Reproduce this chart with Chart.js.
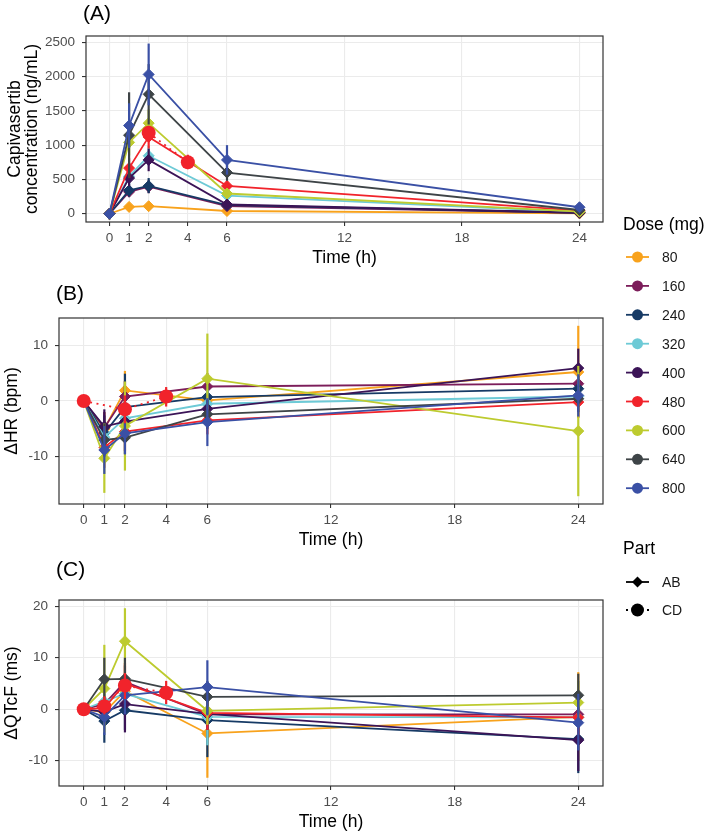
<!DOCTYPE html>
<html>
<head>
<meta charset="utf-8">
<title>Capivasertib concentration, ΔHR and ΔQTcF by dose</title>
<script src="https://cdn.jsdelivr.net/npm/chart.js@4.4.1/dist/chart.umd.min.js"></script>
<style>
    html, body { margin: 0; padding: 0; background: #fff; }
    body { width: 709px; height: 834px; position: relative; overflow: hidden; }
    canvas { position: absolute; left: 0; }
    #panelA { top: 0; }
    #panelB { top: 270px; }
    #panelC { top: 552px; }
    #legend { position: absolute; left: 0; top: 0; }
    #legend text { font-family: "Liberation Sans", Arial, sans-serif; }
</style>
</head>
<body>
<canvas id="panelA" width="610" height="270"></canvas>
<canvas id="panelB" width="610" height="282"></canvas>
<canvas id="panelC" width="610" height="282"></canvas>
<svg id="legend" width="709" height="834" xmlns="http://www.w3.org/2000/svg"></svg>
<script>
// ---- data ----
const doses = ['80', '160', '240', '320', '400', '480', '600', '640', '800'];
const doseColors = ['#F8A21C', '#7C1D5A', '#163A65', '#6DCAD6', '#3B1457', '#F1232B', '#BDCB2F', '#3E4447', '#3A50A5'];
const abTimes = [0, 1, 2, 6, 24];
const xTicks = [0, 1, 2, 4, 6, 12, 18, 24];

// (A) capivasertib concentration, ng/mL — one row per dose, columns = abTimes
const pkMean = [
    [0, 100, 110, 40, 5],
    [0, 320, 395, 110, 15],
    [0, 340, 405, 125, 15],
    [0, 545, 845, 265, 25],
    [0, 520, 785, 135, 15],
    [0, 665, 1120, 405, 45],
    [0, 1040, 1320, 295, 30],
    [0, 1145, 1740, 600, 55],
    [0, 1285, 2030, 785, 95]
];
const pkLow = [
    [0, 70, 70, 20, 0],
    [0, 250, 300, 80, 5],
    [0, 250, 300, 90, 5],
    [0, 420, 700, 200, 10],
    [0, 400, 620, 100, 5],
    [0, 520, 950, 330, 25],
    [0, 850, 1120, 230, 15],
    [0, 520, 1300, 480, 30],
    [0, 960, 1580, 570, 60]
];
const pkHigh = [
    [0, 130, 150, 60, 10],
    [0, 390, 490, 140, 25],
    [0, 430, 520, 160, 25],
    [0, 670, 990, 330, 40],
    [0, 640, 950, 170, 25],
    [0, 810, 1290, 480, 65],
    [0, 1230, 1520, 360, 45],
    [0, 1770, 2180, 720, 80],
    [0, 1610, 2480, 1000, 130]
];
const pkCdTimes = [2, 4];
const pkCdMean = [1180, 750];
const pkCdLow = [1080, 650];
const pkCdHigh = [1280, 860];
const pkTicks = [0, 500, 1000, 1500, 2000, 2500];

// (B) ΔHR, bpm
const hrMean = [
    [0, -5.0, 1.9, 0.1, 5.2],
    [0, -4.8, 0.8, 2.6, 3.1],
    [0, -5.8, -1.1, 0.7, 2.2],
    [0, -6.5, -3.1, -0.5, 0.8],
    [0, -4.6, -3.7, -1.4, 5.9],
    [0, -8.3, -5.5, -3.5, -0.2],
    [0, -10.3, -4.5, 4.0, -5.4],
    [0, -7.0, -6.6, -2.4, 0.4],
    [0, -8.8, -5.8, -3.8, 1.0]
];
const hrLow = [
    [0, -8, -1.5, -2, -3],
    [0, -8, -2, 0, 0],
    [0, -9, -6, -1.5, 0],
    [0, -9, -6, -3, -1],
    [0, -8, -7, -4, 2.5],
    [0, -12, -9, -6, -3],
    [0, -16.5, -12.5, -4, -17.1],
    [0, -10, -9.5, -5, -2],
    [0, -13.1, -9.6, -8.1, -2.8]
];
const hrHigh = [
    [0, -2, 5.4, 2.2, 13.5],
    [0, -2, 3.6, 5, 6],
    [0, -2.6, 4.9, 3, 4.5],
    [0, -4, 0, 2, 2.5],
    [0, -1.5, -0.5, 1.2, 9.4],
    [0, -5, -2, -1, 2],
    [0, -4, 3.5, 12.1, 6.3],
    [0, -4, -3.7, 0.2, 2.8],
    [0, -4.5, -2, 0.5, 4.8]
];
const hrCdTimes = [0, 2, 4];
const hrCdMean = [0, -1.5, 0.8];
const hrCdLow = [0, -4, -1];
const hrCdHigh = [0, 1, 2.5];
const hrTicks = [-10, 0, 10];

// (C) ΔQTcF, ms
const qtcMean = [
    [0, -0.6, 3.5, -4.7, -1.5],
    [0, 1.0, 5.3, -1.0, -1.0],
    [0, -2.3, -0.2, -2.1, -5.8],
    [0, 1.5, 3.0, -1.5, -1.6],
    [0, -0.5, 1.0, -0.9, -6.0],
    [0, 0.2, 5.0, -0.7, -1.6],
    [0, 4.0, 13.2, -0.3, 1.3],
    [0, 5.8, 5.9, 2.4, 2.7],
    [0, -1.5, 2.7, 4.3, -2.6]
];
const qtcLow = [
    [0, -2, 1, -13.3, -10],
    [0, -1, 2, -4, -5],
    [0, -6.5, -4, -9.3, -12.4],
    [0, -0.5, 0, -7, -5],
    [0, -3, -4.5, -4, -12],
    [0, -2, 1, -4, -5],
    [0, -4.5, 6.8, -3, -3],
    [0, 1.5, 1.5, -1, -1],
    [0, -5, -1, -1.2, -8]
];
const qtcHigh = [
    [0, 1, 6, 3.9, 7.2],
    [0, 3, 8.5, 2, 3],
    [0, 2, 3.5, 5, 0.8],
    [0, 3, 6, 4, 2],
    [0, 2, 6.5, 2, 0],
    [0, 2.5, 9, 2.5, 2],
    [0, 12.5, 19.6, 2.5, 5.5],
    [0, 10, 10, 5.5, 6.9],
    [0, 2, 6.5, 9.5, 3]
];
const qtcCdTimes = [0, 1, 2, 4];
const qtcCdMean = [0, 0.6, 4.6, 3.2];
const qtcCdLow = [0, -1, 2, 1];
const qtcCdHigh = [0, 2.5, 7, 5.5];
const qtcTicks = [-10, 0, 10, 20];

const cdColor = '#F1232B';
const FONT = '"Liberation Sans", Arial, sans-serif';
Chart.defaults.font.family = FONT;

// Vertical range bars, drawn just before each dataset so layering follows the series
const errorBars = {
    id: 'errorBars',
    beforeDatasetDraw(chart, args) {
        const ds = chart.data.datasets[args.index];
        if (!ds.errLo) return;
        const { ctx, scales: { x, y } } = chart;
        ctx.save();
        ctx.strokeStyle = ds.borderColor;
        ctx.lineWidth = 2.2;
        ds.data.forEach((p, i) => {
            const px = x.getPixelForValue(p.x);
            ctx.beginPath();
            ctx.moveTo(px, y.getPixelForValue(ds.errLo[i]));
            ctx.lineTo(px, y.getPixelForValue(ds.errHi[i]));
            ctx.stroke();
        });
        ctx.restore();
    }
};

// Panel border (theme_bw style) and the (A)/(B)/(C) tag
const panelFrame = {
    id: 'panelFrame',
    afterDraw(chart, args, opts) {
        const { ctx, chartArea: a } = chart;
        ctx.save();
        ctx.strokeStyle = '#333333';
        ctx.lineWidth = 1.2;
        ctx.strokeRect(a.left, a.top, a.right - a.left, a.bottom - a.top);
        ctx.fillStyle = '#000';
        ctx.font = '21px ' + FONT;
        ctx.textBaseline = 'middle';
        ctx.fillText(opts.label, a.left - 3, opts.labelY);
        ctx.restore();
    }
};

function buildDatasets(mean, low, high, cdTimes, cdMean, cdLow, cdHigh) {
    const sets = doses.map((d, i) => ({
        label: d + ' mg (AB)',
        data: abTimes.map((t, j) => ({ x: t, y: mean[i][j] })),
        errLo: low[i],
        errHi: high[i],
        showLine: true,
        borderColor: doseColors[i],
        backgroundColor: doseColors[i],
        borderWidth: 1.8,
        pointStyle: 'rectRot',
        pointRadius: 5.5,
        pointBorderWidth: 1,
        order: 100 - i
    }));
    sets.push({
        label: '480 mg (CD)',
        data: cdTimes.map((t, j) => ({ x: t, y: cdMean[j] })),
        errLo: cdLow,
        errHi: cdHigh,
        showLine: true,
        borderColor: cdColor,
        backgroundColor: cdColor,
        borderWidth: 1.8,
        borderDash: [2, 4.5],
        pointStyle: 'circle',
        pointRadius: 7,
        pointBorderWidth: 0,
        order: 0
    });
    return sets;
}

function buildScales(yMin, yMax, yTicks, yTitle, yWidth, titlePad, titleLH) {
    return {
        x: {
            type: 'linear',
            min: -1.2,
            max: 25.2,
            afterBuildTicks: (axis) => { axis.ticks = xTicks.map(v => ({ value: v })); },
            afterFit: (axis) => { axis.height = 48; },
            grid: { color: '#EBEBEB', lineWidth: 1.1, tickLength: 4, tickColor: '#333333', tickWidth: 1.1 },
            border: { display: false },
            ticks: { color: '#4D4D4D', font: { size: 13.5 }, padding: 4, maxRotation: 0, autoSkip: false, callback: (v) => String(v) },
            title: { display: true, text: 'Time (h)', color: '#000', font: { size: 17.5 }, padding: { top: 0, bottom: 1.5 } }
        },
        y: {
            type: 'linear',
            min: yMin,
            max: yMax,
            afterBuildTicks: (axis) => { axis.ticks = yTicks.map(v => ({ value: v })); },
            afterFit: (axis) => { axis.width = yWidth; },
            grid: { color: '#EBEBEB', lineWidth: 1.1, tickLength: 4, tickColor: '#333333', tickWidth: 1.1 },
            border: { display: false },
            ticks: { color: '#4D4D4D', font: { size: 13.5 }, padding: 7, callback: (v) => String(v) },
            title: { display: true, text: yTitle, color: '#000', font: { size: 17.5, lineHeight: titleLH }, padding: { top: titlePad, bottom: 0 } }
        }
    };
}

function makePanel(id, datasets, scales, label, labelY, padTop) {
    new Chart(document.getElementById(id).getContext('2d'), {
        type: 'scatter',
        data: { datasets },
        options: {
            responsive: false,
            animation: false,
            events: [],
            layout: { padding: { left: 0, right: 5, top: padTop, bottom: 0 } },
            plugins: {
                legend: { display: false },
                tooltip: { enabled: false },
                panelFrame: { label, labelY }
            },
            scales
        },
        plugins: [errorBars, panelFrame]
    });
}

makePanel('panelA',
    buildDatasets(pkMean, pkLow, pkHigh, pkCdTimes, pkCdMean, pkCdLow, pkCdHigh),
    buildScales(-120, 2590, pkTicks, ['Capivasertib', 'concentration (ng/mL)'], 86, 6.25, 1.0),
    '(A)', 14, 36);

makePanel('panelB',
    buildDatasets(hrMean, hrLow, hrHigh, hrCdTimes, hrCdMean, hrCdLow, hrCdHigh),
    buildScales(-18.5, 14.9, hrTicks, 'ΔHR (bpm)', 59, 1.5, 1.2),
    '(B)', 24, 48);

makePanel('panelC',
    buildDatasets(qtcMean, qtcLow, qtcHigh, qtcCdTimes, qtcCdMean, qtcCdLow, qtcCdHigh),
    buildScales(-14.9, 21.2, qtcTicks, 'ΔQTcF (ms)', 59, 1.5, 1.2),
    '(C)', 18, 48);

// Legend (two guides: Dose colour, Part shape/linetype)
function buildLegend() {
    const svg = document.getElementById('legend');
    const NS = 'http://www.w3.org/2000/svg';
    const el = (tag, attrs, text) => {
        const n = document.createElementNS(NS, tag);
        Object.entries(attrs).forEach(([k, v]) => n.setAttribute(k, v));
        if (text) n.textContent = text;
        svg.appendChild(n);
        return n;
    };
    el('text', { x: 623, y: 224, 'font-size': 17.5, 'dominant-baseline': 'central', fill: '#000' }, 'Dose (mg)');
    doses.forEach((d, i) => {
        const cy = 257 + i * 28.9;
        el('line', { x1: 626, x2: 649, y1: cy, y2: cy, stroke: doseColors[i], 'stroke-width': 1.8 });
        el('circle', { cx: 637.5, cy, r: 5.5, fill: doseColors[i] });
        el('text', { x: 662, y: cy, 'font-size': 14, 'dominant-baseline': 'central', fill: '#1a1a1a' }, d);
    });
    el('text', { x: 623, y: 548, 'font-size': 17.5, 'dominant-baseline': 'central', fill: '#000' }, 'Part');
    el('line', { x1: 626, x2: 649, y1: 582, y2: 582, stroke: '#000', 'stroke-width': 1.8 });
    el('polygon', { points: '637.5,576.5 643,582 637.5,587.5 632,582', fill: '#000' });
    el('text', { x: 662, y: 582, 'font-size': 14, 'dominant-baseline': 'central', fill: '#1a1a1a' }, 'AB');
    el('line', { x1: 626, x2: 649, y1: 610, y2: 610, stroke: '#000', 'stroke-width': 1.8, 'stroke-dasharray': '2 19' });
    el('circle', { cx: 637.5, cy: 610, r: 6.5, fill: '#000' });
    el('text', { x: 662, y: 610, 'font-size': 14, 'dominant-baseline': 'central', fill: '#1a1a1a' }, 'CD');
}
buildLegend();
</script>
</body>
</html>
